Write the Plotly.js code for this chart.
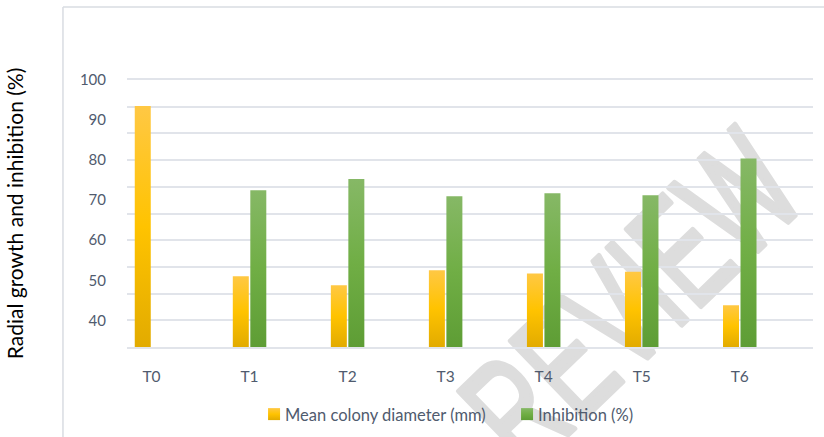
<!DOCTYPE html>
<html>
<head>
<meta charset="utf-8">
<script src="https://cdn.plot.ly/plotly-3.0.1.min.js"></script>
<style>html,body{margin:0;padding:0;background:#fff;}#chart{width:824px;height:437px;}</style>
</head>
<body>
<div id="chart"></div>
<script>
// ---- data ----
const categories = ['T0', 'T1', 'T2', 'T3', 'T4', 'T5', 'T6'];
const meanColonyDiameter = [93.5, 51.0, 48.75, 52.5, 51.7, 52.1, 43.75];
const inhibition = [null, 72.5, 75.25, 71.0, 71.7, 71.2, 80.4];
const yTickValues = [40, 50, 60, 70, 80, 90, 100];
const yTickText = ['40', '50', '60', '70', '80', '90', '100'];
const seriesNames = ['Mean colony diameter (mm)', 'Inhibition (%)'];
const watermarkText = 'REVIEW';
const yTitle = 'Radial growth and inhibition (%)';

const ORANGE = '#FFC000';
const GREEN = '#70AD47';
const TEXT = '#505b6e';
const GRID = '#e1e4ea';
const FONT = 'Lato, "Open Sans", sans-serif';

const traces = [
  {type: 'bar', name: seriesNames[0], x: categories, y: meanColonyDiameter,
   marker: {color: ORANGE, line: {width: 0}}, hoverinfo: 'skip'},
  {type: 'bar', name: seriesNames[1], x: categories, y: inhibition,
   marker: {color: GREEN, line: {width: 0}}, hoverinfo: 'skip'},
  // carrier for the grid axis
  {type: 'scatter', mode: 'markers', x: [categories[0]], y: [0], yaxis: 'y2',
   marker: {opacity: 0, size: 1}, showlegend: false, hoverinfo: 'skip'}
];

const L = 127, R = 11.3, T = 80, B = 90.3;
const W = 824 - L - R, H = 437 - T - B;
const px2x = p => (p - L) / W;
const py2y = p => (437 - B - p) / H;

const layout = {
  width: 824, height: 437,
  margin: {l: L, r: R, t: T, b: B, pad: 0, autoexpand: false},
  paper_bgcolor: '#ffffff',
  plot_bgcolor: 'rgba(0,0,0,0)',
  font: {family: FONT, color: TEXT, size: 15},
  barmode: 'group',
  bargap: 0.643,
  bargroupgap: 0.086,
  showlegend: true,
  legend: {orientation: 'h', x: px2x(245), xanchor: 'left', y: py2y(414), yanchor: 'middle',
           font: {family: FONT, size: 16.5, color: TEXT}, bgcolor: 'rgba(0,0,0,0)', itemwidth: 30,
           entrywidth: 208, entrywidthmode: 'pixels', traceorder: 'normal'},
  xaxis: {type: 'category', range: [-0.25, 6.747], showgrid: false, zeroline: false,
          showline: true, mirror: true, linecolor: GRID, linewidth: 2, ticks: '', ticklabelstandoff: 14,
          tickfont: {family: FONT, size: 15.5, color: TEXT}, fixedrange: true},
  yaxis: {range: [33.333, 100], tickmode: 'array', tickvals: yTickValues, ticktext: yTickText,
          showgrid: false, zeroline: false, showline: false, ticks: '', ticklabelstandoff: 20,
          tickfont: {family: FONT, size: 15, color: TEXT},
          title: {text: yTitle, font: {family: FONT, size: 21, color: '#000000'}, standoff: 50},
          fixedrange: true},
  yaxis2: {overlaying: 'y', range: [-0.003, 10.003], dtick: 1, tick0: 0, showgrid: true,
           gridcolor: GRID, gridwidth: 2, showticklabels: false, zeroline: false,
           showline: false, ticks: '', fixedrange: true},
  shapes: [
    // watermark (below traces)
    {type: 'rect', xref: 'paper', yref: 'paper', layer: 'below',
     x0: px2x(592) - 0.1, x1: px2x(592) + 0.1, y0: py2y(302) - 0.1, y1: py2y(302) + 0.1,
     line: {width: 0}, fillcolor: 'rgba(0,0,0,0)',
     label: {text: watermarkText, textangle: -44, textposition: 'middle center',
             font: {family: '"Liberation Sans", Arial, sans-serif', size: 125, color: '#dddddd'}}},
    // chart frame (cropped)
    {type: 'line', xref: 'paper', yref: 'paper', x0: px2x(63), x1: px2x(63), y0: py2y(7), y1: py2y(440),
     line: {color: '#d9dce2', width: 1.5}},
    {type: 'line', xref: 'paper', yref: 'paper', x0: px2x(63), x1: px2x(830), y0: py2y(7), y1: py2y(7),
     line: {color: '#d9dce2', width: 1.5}}
  ]
};

Plotly.newPlot('chart', traces, layout, {staticPlot: true, displayModeBar: false}).then(gd => {
  const NS = 'http://www.w3.org/2000/svg';
  const svg = gd.querySelector('.main-svg');
  let defs = svg.querySelector('defs');
  if (!defs) { defs = document.createElementNS(NS, 'defs'); svg.insertBefore(defs, svg.firstChild); }
  const stopsFor = {
    orange: [['0', '#ffc844'], ['0.5', '#ffc300'], ['1', '#e2ab00']],
    green: [['0', '#86b866'], ['0.5', '#70ae45'], ['1', '#5e9d35']]
  };
  let n = 0;
  function grad(kind, user, y1, y2) {
    const g = document.createElementNS(NS, 'linearGradient');
    const id = 'gr' + (n++);
    g.setAttribute('id', id);
    g.setAttribute('x1', '0'); g.setAttribute('x2', '0');
    if (user) {
      g.setAttribute('gradientUnits', 'userSpaceOnUse');
      g.setAttribute('y1', y1); g.setAttribute('y2', y2);
    } else { g.setAttribute('y1', '0'); g.setAttribute('y2', '1'); }
    stopsFor[kind].forEach(s => {
      const st = document.createElementNS(NS, 'stop');
      st.setAttribute('offset', s[0]); st.setAttribute('stop-color', s[1]);
      g.appendChild(st);
    });
    defs.appendChild(g);
    return 'url(#' + id + ')';
  }
  const kindOf = f => (f.indexOf('255, 192, 0') >= 0 ? 'orange' : (f.indexOf('112, 173, 71') >= 0 ? 'green' : null));
  const plotH = gd._fullLayout._size.h;
  gd.querySelectorAll('.trace.bars .point path').forEach(p => {
    const k = kindOf(p.style.fill || '');
    if (!k) return;
    const bb = p.getBBox();
    const y1 = Math.max(0, bb.y), y2 = Math.min(plotH, bb.y + bb.height);
    p.style.fill = grad(k, true, y1, y2);
  });
  gd.querySelectorAll('.legendpoints path').forEach(p => {
    const k = kindOf(p.style.fill || '');
    if (!k) return;
    p.style.fill = grad(k, false);
    // the reference draws its swatch close to the label
    p.setAttribute('transform', 'translate(29,0)');
  });
  // watermark: condensed, tall letters with thick rounded strokes
  gd.querySelectorAll('text').forEach(t => {
    if (t.textContent === watermarkText) {
      const bb = t.getBBox();
      const cx = bb.x + bb.width / 2, cy = bb.y + bb.height / 2;
      t.setAttribute('transform',
        `rotate(-44 ${cx} ${cy}) translate(${cx} ${cy}) scale(0.8 1.25) translate(${-cx} ${-cy})`);
      t.style.stroke = '#dddddd';
      t.style.strokeWidth = '4px';
      t.style.strokeLinejoin = 'round';
    }
  });
});
</script>
</body>
</html>
